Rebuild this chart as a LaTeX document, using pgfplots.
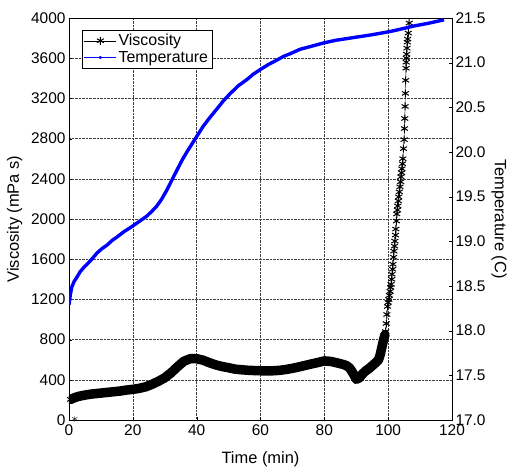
\documentclass[border=0pt]{standalone}
\usepackage{fontspec}
\setmainfont{Liberation Sans}
\usepackage{pgfplots}
\pgfplotsset{compat=1.18}

\begin{document}
\begin{tikzpicture}
\useasboundingbox (-69bp,-47bp) rectangle (438bp,420bp);
\pgfplotsset{
  every axis/.append style={
    at={(0,0)}, anchor=south west,
    width=383bp, height=402bp, scale only axis,
    xmin=0, xmax=120,
    font=\fontsize{15.5}{18}\selectfont,
    label style={font=\fontsize{16.5}{19}\selectfont},
    /pgf/number format/assume math mode=true,
    /pgf/number format/1000 sep={},
    tick align=inside, major tick length=3bp,
    tick style={black},
  },
}
\begin{axis}[
  ymin=0, ymax=4000,
  ytick={0,400,...,4000},
  xtick={0,20,...,120},
  xtick pos=bottom, ytick pos=left,
  grid=major, grid style={densely dotted, black!75},
  xlabel={Time (min)}, ylabel={Viscosity (mPa s)},
  xticklabel style={yshift=-1bp},
  xlabel style={yshift=-9bp},
  ylabel style={yshift=2bp},
  legend style={at={(0.034,0.97)}, anchor=north west, draw=black,
    font=\fontsize{16}{18}\selectfont, inner sep=2pt, row sep=0pt,
    cells={anchor=west}},
  legend image code/.code={
    \draw[#1, mark repeat=2, mark phase=2] plot coordinates {(0bp,0bp) (16bp,0bp) (32bp,0bp)};},
]
% dense part drawn as a band of overlapping markers
\addplot[black, line width=9.5bp, forget plot, line join=round, line cap=round] coordinates {
 (0.5,205) (1,212) (2,225) (3,235) (5,248) (7,258) (10,268) (13,278)
 (16,288) (18,298) (20,305) (22,315) (24,330) (26,355) (28,385) (30,420)
 (32,470) (34,530) (36,585) (38,610) (40,610) (42,595) (44,570) (46,548)
 (48,532) (50,520) (52,506) (54,500) (56,495) (58,492) (60,490) (62,490)
 (64,490) (66,494) (68,503) (70,514) (72,528) (74,543) (76,558) (78,572)
 (80,588) (82,583) (84,568) (86,552) (87,540) (88,515) (89,465) (90,405)
 (91,420) (92,460) (93,490) (94,512) (95,540) (96,568) (97,600) (97.5,650)
 (98,720) (98.5,790) (99,850)
};
\addplot[black, thin, mark=asterisk, mark size=4bp, mark options={line width=1pt}] coordinates {
 (0.5,205) (1,212) (2,225) (3,235) (5,248) (7,258) (10,268) (13,278)
 (16,288) (18,298) (20,305) (22,315) (24,330) (26,355) (28,385) (30,420)
 (32,470) (34,530) (36,585) (38,610) (40,610) (42,595) (44,570) (46,548)
 (48,532) (50,520) (52,506) (54,500) (56,495) (58,492) (60,490) (62,490)
 (64,490) (66,494) (68,503) (70,514) (72,528) (74,543) (76,558) (78,572)
 (80,588) (82,583) (84,568) (86,552) (87,540) (88,515) (89,465) (90,405)
 (91,420) (92,460) (93,490) (94,512) (95,540) (96,568) (97,600) (97.5,650)
 (98,720) (98.5,790) (99,850)
 (99.2,880) (99.4,960) (99.6,1050) (99.8,1130) (100,1170) (100.2,1200)
 (100.4,1240) (100.6,1280) (100.8,1320) (100.9,1350) (101.1,1400)
 (101.2,1450) (101.4,1500) (101.5,1550) (101.7,1620) (101.8,1680)
 (102,1730) (102.1,1780) (102.3,1840) (102.4,1900) (102.6,1980) (102.7,2050)
 (102.9,2090) (103,2130) (103.2,2180) (103.3,2220) (103.5,2270) (103.7,2320)
 (103.9,2370) (104,2420) (104.2,2460) (104.3,2500) (104.5,2550) (104.6,2600)
 (104.8,2700) (105,2790) (105.1,2900) (105.2,3000) (105.3,3120) (105.4,3250)
 (105.5,3380) (105.6,3500) (105.65,3560) (105.7,3600) (105.8,3640)
 (105.9,3700) (106,3760) (106.1,3790) (106.3,3850) (106.6,3950)
};
\addlegendentry{Viscosity}
\addplot[black, only marks, mark=asterisk, mark size=3bp, forget plot] coordinates {(1.8,12)};
\addlegendimage{blue, thin, mark=*, mark size=1.4bp}
\addlegendentry{Temperature}
\end{axis}
\begin{axis}[
  ymin=17, ymax=21.5,
  ytick={17,17.5,...,21.5},
  axis x line=none, axis y line*=right,
  ylabel={Temperature (C)},
  ylabel style={rotate=180, yshift=-1bp},
  yticklabel style={/pgf/number format/.cd, fixed, fixed zerofill, precision=1},
]
\addplot[blue, line width=3.4bp, line join=round] coordinates {
 (0,18.29) (0.4,18.40) (0.9,18.49) (1.6,18.55) (2.5,18.60) (3.5,18.66)
 (4.7,18.71) (5.8,18.75) (6.9,18.79) (8.8,18.87) (10.4,18.92) (12,18.96)
 (13.5,19.01) (15.1,19.05) (17.3,19.11) (19.5,19.16) (21.1,19.20) (22.7,19.24)
 (24.3,19.28) (25.8,19.33) (27.4,19.39) (29,19.47) (30.6,19.57) (32.3,19.69)
 (34,19.81) (35.6,19.92) (37.1,20.01) (38.7,20.10) (40.3,20.19) (41.9,20.28)
 (44,20.38) (46.3,20.48) (48.3,20.57) (50.4,20.65) (53,20.74) (55.7,20.81)
 (57.7,20.87) (59.8,20.92) (62.5,20.98) (65.2,21.03) (67.2,21.07) (69.3,21.10)
 (72.4,21.15) (75.6,21.18) (79.7,21.22) (83.5,21.25) (87.2,21.27) (90.8,21.29)
 (94.5,21.31) (97.7,21.33) (100.8,21.35) (104.5,21.38) (108,21.41)
 (112.5,21.44) (117.5,21.48)
};
\end{axis}
\end{tikzpicture}
\end{document}
